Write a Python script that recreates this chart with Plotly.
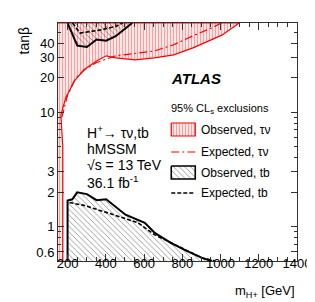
import plotly.graph_objects as go

# ---- data (m_H+ [GeV], tan beta) ----
tau_obs_mass = [150, 175, 175, 170, 165, 190, 236, 286, 352, 402, 452, 553, 654, 755, 856, 1007, 1098, 150]
tau_obs_tanb = [0.5, 0.5, 5, 8, 9.4, 13.3, 18.7, 23.4, 28, 31, 29.7, 28.6, 29.7, 31.6, 36.4, 47, 60, 60]

tau_exp_mass = [170, 200, 240, 290, 350, 450, 550, 654, 755, 856, 956, 1005]
tau_exp_tanb = [9, 14, 19.5, 23.5, 27, 31, 32.5, 34.2, 38.7, 46.4, 54.6, 60]

tb_obs_mass = [200, 200, 225, 250, 301, 352, 402, 503, 604, 654, 740, 820, 906, 956]
tb_obs_tanb = [0.5, 1.69, 1.73, 1.99, 1.92, 1.70, 1.73, 1.27, 1.08, 0.886, 0.72, 0.616, 0.53, 0.5]

tb_exp_mass = [210, 286, 402, 568, 654, 740, 906, 972]
tb_exp_tanb = [1.62, 1.53, 1.33, 1.08, 0.85, 0.72, 0.53, 0.5]

tbhi_obs_mass = [200, 251, 301, 352, 402, 452, 538]
tbhi_obs_tanb = [60, 38, 37, 43, 42, 46, 60]

tbhi_exp_mass = [226, 266, 367, 452, 488]
tbhi_exp_tanb = [60, 49, 52, 56, 60]

x_ticks = [200, 400, 600, 800, 1000, 1200, 1400]
y_ticks = [0.6, 1, 2, 3, 10, 20, 30, 40]
y_minor = [0.5, 0.7, 0.8, 0.9, 4, 5, 6, 7, 8, 9, 50, 60]

FONT = "Liberation Sans"
RED = "rgb(255,0,0)"
RED_HATCH = dict(shape="|", fgcolor="rgba(255,40,40,0.9)", bgcolor="white", size=3, solidity=0.5)
BLK_HATCH = dict(shape="\\", fgcolor="rgba(0,0,0,0.85)", bgcolor="white", size=4, solidity=0.22)
BLK_HATCH_OVER = dict(shape="\\", fgcolor="rgba(0,0,0,0.85)", size=4, solidity=0.22)

fig = go.Figure()

# tau-nu observed (red vertical hatch)
fig.add_trace(go.Scatter(
    x=tau_obs_mass, y=tau_obs_tanb, mode="lines", fill="toself",
    fillcolor="rgba(0,0,0,0)", fillpattern=RED_HATCH,
    line=dict(color=RED, width=1.2), showlegend=False, hoverinfo="skip"))

# tb observed low tanb (black diagonal hatch)
fig.add_trace(go.Scatter(
    x=tb_obs_mass, y=tb_obs_tanb, mode="lines", fill="toself",
    fillcolor="rgba(0,0,0,0)", fillpattern=BLK_HATCH,
    line=dict(color="black", width=2), showlegend=False, hoverinfo="skip"))

# tb observed high tanb (overlay on red hatch)
fig.add_trace(go.Scatter(
    x=tbhi_obs_mass, y=tbhi_obs_tanb, mode="lines", fill="toself",
    fillcolor="rgba(0,0,0,0)", fillpattern=BLK_HATCH_OVER,
    line=dict(color="black", width=2), showlegend=False, hoverinfo="skip"))

# expected lines
fig.add_trace(go.Scatter(x=tau_exp_mass, y=tau_exp_tanb, mode="lines",
                         line=dict(color=RED, width=1.2, dash="8px,3px,2px,3px"),
                         showlegend=False, hoverinfo="skip"))
fig.add_trace(go.Scatter(x=tb_exp_mass, y=tb_exp_tanb, mode="lines",
                         line=dict(color="black", width=1.6, dash="4px,2px"),
                         showlegend=False, hoverinfo="skip"))
fig.add_trace(go.Scatter(x=tbhi_exp_mass, y=tbhi_exp_tanb, mode="lines",
                         line=dict(color="black", width=1.6, dash="4px,2px"),
                         showlegend=False, hoverinfo="skip"))

# ---- legend symbols on an overlay axis in pixel-like coords ----
leg_box_x = [168, 193, 193, 168, 168]
leg_tau_box_y = [115, 115, 128, 128, 115]
leg_tb_box_y = [158, 158, 171, 171, 158]
fig.add_trace(go.Scatter(
    x=leg_box_x, y=leg_tau_box_y, xaxis="x2", yaxis="y2", mode="lines", fill="toself",
    fillcolor="rgba(0,0,0,0)", fillpattern=RED_HATCH,
    line=dict(color=RED, width=1.2), showlegend=False, hoverinfo="skip"))
fig.add_trace(go.Scatter(
    x=leg_box_x, y=leg_tb_box_y, xaxis="x2", yaxis="y2", mode="lines", fill="toself",
    fillcolor="rgba(0,0,0,0)", fillpattern=BLK_HATCH,
    line=dict(color="black", width=1.6), showlegend=False, hoverinfo="skip"))
fig.add_trace(go.Scatter(x=[168, 193], y=[144, 144], xaxis="x2", yaxis="y2", mode="lines",
                         line=dict(color=RED, width=1.2, dash="8px,3px,2px,3px"),
                         showlegend=False, hoverinfo="skip"))
fig.add_trace(go.Scatter(x=[168, 193], y=[185, 185], xaxis="x2", yaxis="y2", mode="lines",
                         line=dict(color="black", width=1.6, dash="4px,2px"),
                         showlegend=False, hoverinfo="skip"))

def txt(x, y, s, size=14, xanchor="left", **kw):
    fig.add_annotation(x=x, y=y, xref="x2", yref="y2", text=s, showarrow=False,
                       xanchor=xanchor, yanchor="middle",
                       font=dict(family=FONT, size=size, color="black"), **kw)

txt(166, 70, "<b><i>ATLAS</i></b>", size=15)
txt(166, 101, "95% CL<sub>s</sub> exclusions", size=11)
txt(197, 122, "Observed, τν", size=12)
txt(197, 144, "Expected, τν", size=12)
txt(197, 165, "Observed, tb", size=12)
txt(197, 185, "Expected, tb", size=12)
txt(78, 124, "H<sup>+</sup>→ τν,tb", size=14)
txt(78, 141, "hMSSM", size=14)
txt(78, 157, "√s = 13 TeV", size=14)
txt(78, 174, "36.1 fb<sup>-1</sup>", size=14)

# axis titles in paper coords (plot area: x 50..299 px, y 15..253 px)
fig.add_annotation(x=1.0, y=(253 - 294) / 238, xref="paper", yref="paper",
                   text="m<sub>H+</sub> [GeV]", showarrow=False,
                   xanchor="right", yanchor="bottom",
                   font=dict(family=FONT, size=13, color="black"))
fig.add_annotation(x=(15 - 50) / 249, y=(253 - 16) / 238, xref="paper", yref="paper",
                   text="tanβ", textangle=-90, showarrow=False,
                   xanchor="center", yanchor="top",
                   font=dict(family=FONT, size=14, color="black"))

axis_common = dict(showgrid=False, zeroline=False, showline=True, linecolor="#333",
                   linewidth=1, mirror="allticks", ticks="inside", tickcolor="#333",
                   tickfont=dict(family=FONT, size=13, color="black"))

fig.update_layout(
    width=315, height=302,
    margin=dict(l=50, r=16, t=15, b=49),
    paper_bgcolor="white", plot_bgcolor="white",
    xaxis=dict(range=[150, 1400], tickmode="array", tickvals=x_ticks, ticklen=7,
               ticklabelstandoff=-10,
               minor=dict(ticks="inside", dtick=50, tick0=0, ticklen=4, tickcolor="#333"),
               **axis_common),
    yaxis=dict(type="log", range=[-0.30103, 1.7782], tickmode="array",
               tickvals=y_ticks, ticktext=[str(v) for v in y_ticks], ticklen=6,
               minor=dict(ticks="inside", tickmode="array", tickvals=y_minor, ticklen=3,
                          tickcolor="#333"),
               **axis_common),
    xaxis2=dict(overlaying="x", range=[50, 299], visible=False, fixedrange=True),
    yaxis2=dict(overlaying="y", range=[253, 15], visible=False, fixedrange=True),
)

fig.write_html("out.html")
